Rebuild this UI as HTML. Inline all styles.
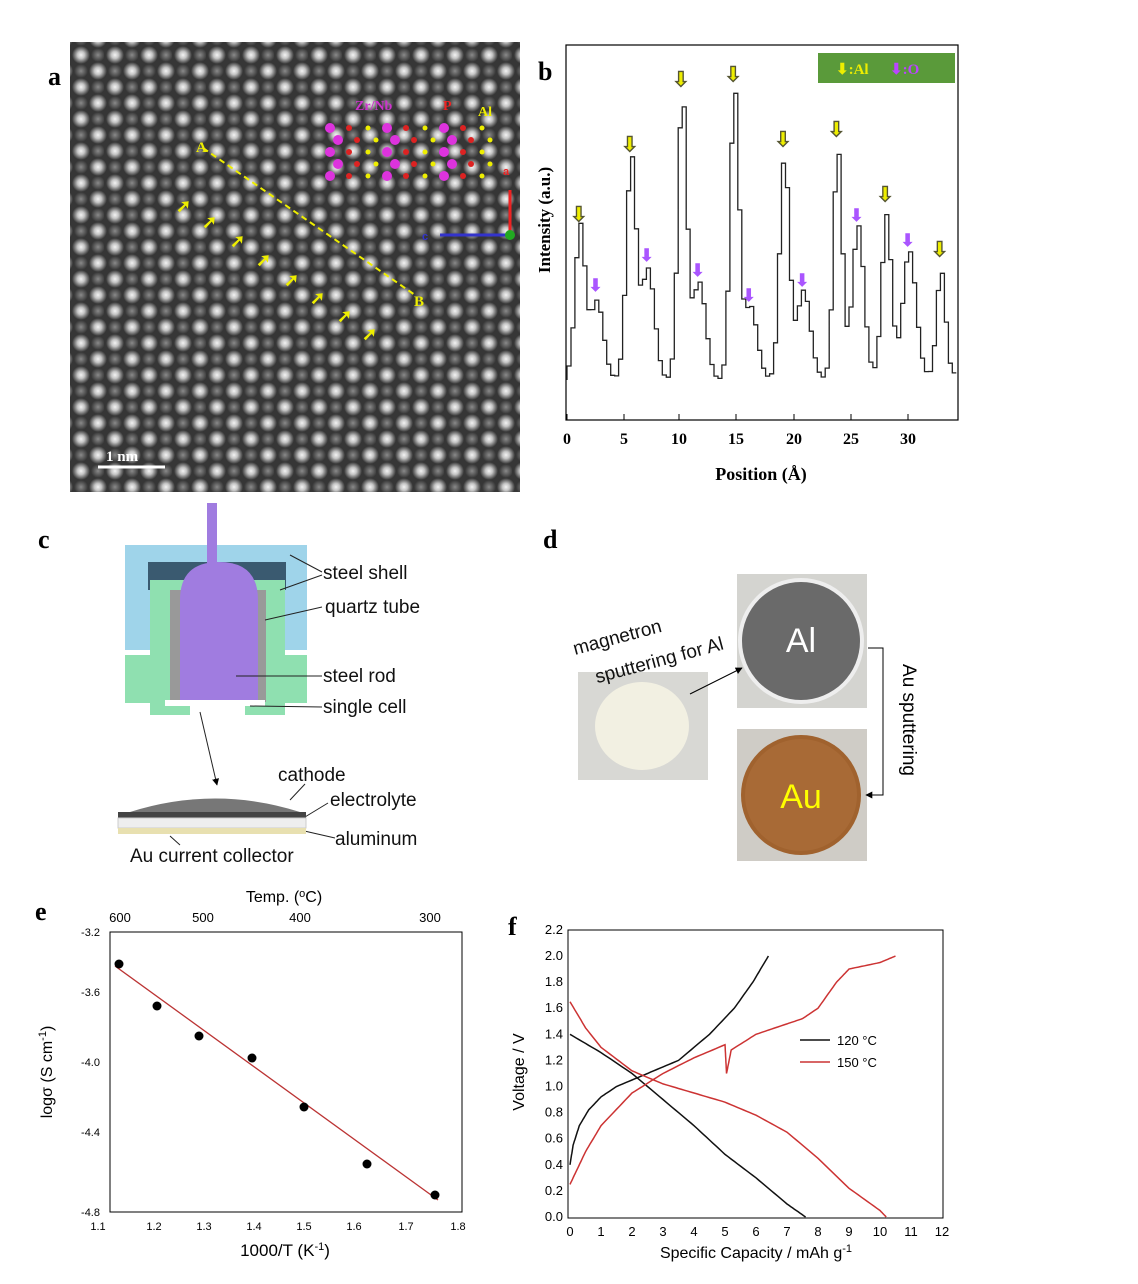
<!DOCTYPE html>
<html><head><meta charset="utf-8">
<style>
html,body{margin:0;padding:0;background:#fff;}
body{width:1138px;height:1284px;position:relative;overflow:hidden;font-family:"Liberation Sans",sans-serif;}
svg{position:absolute;left:0;top:0;}
</style></head>
<body>
<svg width="1138" height="1284" viewBox="0 0 1138 1284" xmlns="http://www.w3.org/2000/svg">
<defs>
<radialGradient id="dot"><stop offset="0" stop-color="#f4f4f4"/><stop offset="0.4" stop-color="#c4c4c4"/><stop offset="1" stop-color="#bbb" stop-opacity="0"/></radialGradient>
<radialGradient id="dot2"><stop offset="0" stop-color="#8a8a8a"/><stop offset="1" stop-color="#888" stop-opacity="0"/></radialGradient>
<pattern id="lat" x="70" y="42" width="34" height="32" patternUnits="userSpaceOnUse">
<rect width="34" height="32" fill="#363636"/>
<circle cx="11" cy="13" r="9" fill="url(#dot)"/>
<circle cx="28" cy="29" r="9" fill="url(#dot)"/>
<circle cx="-6" cy="29" r="9" fill="url(#dot)"/>
<circle cx="28" cy="-3" r="9" fill="url(#dot)"/>
<circle cx="-6" cy="-3" r="9" fill="url(#dot)"/>
<circle cx="28" cy="13" r="7" fill="url(#dot2)"/>
<circle cx="11" cy="29" r="7" fill="url(#dot2)"/>
<circle cx="11" cy="-3" r="7" fill="url(#dot2)"/>
</pattern>
<marker id="ah" viewBox="0 0 10 10" refX="9" refY="5" markerWidth="7" markerHeight="7" orient="auto"><path d="M0,0L10,5L0,10z" fill="#000"/></marker>
</defs>

<text x="48" y="85" font-family="Liberation Serif" font-weight="bold" font-size="26">a</text>
<rect x="70" y="42" width="450" height="450" fill="url(#lat)"/>
<line x1="203" y1="148" x2="415" y2="295" stroke="#ee0" stroke-width="2" stroke-dasharray="6,4"/>
<text x="196" y="152" fill="#ee0" font-family="Liberation Serif" font-weight="bold" font-size="15">A</text>
<text x="414" y="306" fill="#ee0" font-family="Liberation Serif" font-weight="bold" font-size="15">B</text>
<g fill="#ee0" font-size="18" font-weight="bold">
<text x="176" y="212">➚</text><text x="202" y="228">➚</text><text x="230" y="247">➚</text><text x="256" y="266">➚</text><text x="284" y="286">➚</text><text x="310" y="304">➚</text><text x="337" y="322">➚</text><text x="362" y="340">➚</text>
</g>
<text x="355" y="110" fill="#c3c" font-family="Liberation Serif" font-weight="bold" font-size="14">Zr/Nb</text>
<text x="443" y="110" fill="#e22" font-family="Liberation Serif" font-weight="bold" font-size="14">P</text>
<text x="478" y="116" fill="#ee0" font-family="Liberation Serif" font-weight="bold" font-size="14">Al</text>
<g id="atoms"></g>
<line x1="510" y1="235" x2="510" y2="190" stroke="#e22" stroke-width="3"/>
<line x1="510" y1="235" x2="440" y2="235" stroke="#33c" stroke-width="3"/>
<circle cx="510" cy="235" r="5" fill="#2a2"/>
<text x="503" y="175" fill="#e22" font-size="11" font-weight="bold">a</text>
<text x="422" y="240" fill="#33c" font-size="11" font-weight="bold">c</text>
<line x1="98" y1="467" x2="165" y2="467" stroke="#fff" stroke-width="3"/>
<text x="106" y="461" fill="#fff" font-family="Liberation Serif" font-weight="bold" font-size="15">1 nm</text>

<text x="538" y="80" font-family="Liberation Serif" font-weight="bold" font-size="26">b</text>
<rect x="566" y="45" width="392" height="375" fill="none" stroke="#000" stroke-width="1.2"/>
<rect x="818" y="53" width="137" height="30" fill="#5a9a3a"/>
<text x="836" y="74" fill="#ee0" font-family="Liberation Serif" font-weight="bold" font-size="15">⬇:Al</text>
<text x="890" y="74" fill="#b4f" font-family="Liberation Serif" font-weight="bold" font-size="15">⬇:O</text>
<path id="bcurve" fill="none" stroke="#222" stroke-width="1.3"/>
<g id="barrows" font-size="20" font-weight="bold"></g>
<g font-family="Liberation Serif" font-weight="bold" font-size="16" text-anchor="middle">
<text x="567" y="444">0</text><text x="624" y="444">5</text><text x="679" y="444">10</text><text x="736" y="444">15</text><text x="794" y="444">20</text><text x="851" y="444">25</text><text x="908" y="444">30</text>
<text x="761" y="480" font-size="18">Position (Å)</text>
<text transform="translate(550,220) rotate(-90)" font-size="17">Intensity (a.u.)</text>
</g>
<g stroke="#000"><line x1="567" y1="420" x2="567" y2="414"/><line x1="624" y1="420" x2="624" y2="414"/><line x1="679" y1="420" x2="679" y2="414"/><line x1="736" y1="420" x2="736" y2="414"/><line x1="794" y1="420" x2="794" y2="414"/><line x1="851" y1="420" x2="851" y2="414"/><line x1="908" y1="420" x2="908" y2="414"/></g>

<text x="38" y="548" font-family="Liberation Serif" font-weight="bold" font-size="26">c</text>
<rect x="125" y="545" width="182" height="105" fill="#9fd4ea"/>
<rect x="148" y="562" width="138" height="28" fill="#3a5a70"/>
<rect x="125" y="655" width="182" height="48" fill="#8fe0b0"/>
<rect x="150" y="580" width="40" height="135" fill="#8fe0b0"/>
<rect x="245" y="580" width="40" height="135" fill="#8fe0b0"/>
<rect x="170" y="590" width="16" height="112" fill="#999"/>
<rect x="252" y="590" width="14" height="112" fill="#999"/>
<rect x="207" y="503" width="10" height="62" fill="#a07ce0"/>
<path d="M180,700 L180,600 Q180,562 219,562 Q258,562 258,600 L258,700 Z" fill="#a07ce0"/>
<rect x="165" y="700" width="100" height="6" fill="#fff"/>
<g stroke="#222" stroke-width="1">
<line x1="290" y1="555" x2="322" y2="572"/><line x1="280" y1="590" x2="322" y2="575"/>
<line x1="265" y1="620" x2="322" y2="607"/>
<line x1="236" y1="676" x2="322" y2="676"/>
<line x1="250" y1="706" x2="322" y2="707"/>
<line x1="200" y1="712" x2="217" y2="785" marker-end="url(#ah)"/>
<line x1="290" y1="800" x2="305" y2="784"/><line x1="300" y1="820" x2="328" y2="803"/>
<line x1="300" y1="830" x2="335" y2="838"/>
<line x1="170" y1="836" x2="180" y2="845"/>
</g>
<g font-size="19" fill="#111">
<text x="323" y="579">steel shell</text><text x="325" y="613">quartz tube</text>
<text x="323" y="682">steel rod</text><text x="323" y="713">single cell</text>
<text x="278" y="781">cathode</text><text x="330" y="806">electrolyte</text>
<text x="335" y="845">aluminum</text><text x="130" y="862">Au current collector</text>
</g>
<path d="M130,812 Q215,785 300,812 Z" fill="#777"/>
<rect x="118" y="812" width="188" height="6" fill="#444"/>
<rect x="118" y="818" width="188" height="10" fill="#eee" stroke="#ccc"/>
<rect x="118" y="828" width="188" height="6" fill="#e8e0b0"/>

<text x="543" y="548" font-family="Liberation Serif" font-weight="bold" font-size="26">d</text>
<rect x="578" y="672" width="130" height="108" fill="#d8d8d4"/>
<ellipse cx="642" cy="726" rx="47" ry="44" fill="#f2f0e2"/>
<rect x="737" y="574" width="130" height="134" fill="#d4d4d0"/>
<circle cx="801" cy="641" r="63" fill="#eee"/><circle cx="801" cy="641" r="59" fill="#6a6a6a"/>
<text x="801" y="652" fill="#fff" font-size="34" text-anchor="middle">Al</text>
<rect x="737" y="729" width="130" height="132" fill="#cfccc6"/>
<circle cx="801" cy="795" r="60" fill="#a0622e"/><circle cx="801" cy="795" r="56" fill="#a86a36"/>
<text x="801" y="808" fill="#ff0" font-size="34" text-anchor="middle">Au</text>
<g transform="translate(575,655) rotate(-15)" font-size="19" fill="#111"><text x="0" y="0">magnetron</text><text x="14" y="33">sputtering for Al</text></g>
<line x1="690" y1="694" x2="742" y2="668" stroke="#000" marker-end="url(#ah)"/>
<polyline points="868,648 883,648 883,795 868,795" fill="none" stroke="#000"/>
<line x1="883" y1="795" x2="866" y2="795" stroke="#000" marker-end="url(#ah)"/>
<text transform="translate(903,720) rotate(90)" font-size="19" text-anchor="middle">Au sputtering</text>

<text x="35" y="920" font-family="Liberation Serif" font-weight="bold" font-size="26">e</text>
<rect x="110" y="932" width="352" height="280" fill="none" stroke="#000"/>
<line x1="115" y1="966" x2="438" y2="1200" stroke="#b33" stroke-width="1.3"/>
<g fill="#000"><circle cx="119" cy="964" r="4.5"/><circle cx="157" cy="1006" r="4.5"/><circle cx="199" cy="1036" r="4.5"/><circle cx="252" cy="1058" r="4.5"/><circle cx="304" cy="1107" r="4.5"/><circle cx="367" cy="1164" r="4.5"/><circle cx="435" cy="1195" r="4.5"/></g>
<g font-size="11" text-anchor="middle">
<text x="98" y="1230">1.1</text><text x="154" y="1230">1.2</text><text x="204" y="1230">1.3</text><text x="254" y="1230">1.4</text><text x="304" y="1230">1.5</text><text x="354" y="1230">1.6</text><text x="406" y="1230">1.7</text><text x="458" y="1230">1.8</text>
</g>
<g font-size="11" text-anchor="end">
<text x="100" y="936">-3.2</text><text x="100" y="996">-3.6</text><text x="100" y="1066">-4.0</text><text x="100" y="1136">-4.4</text><text x="100" y="1216">-4.8</text>
</g>
<g font-size="13" text-anchor="middle">
<text x="120" y="922">600</text><text x="203" y="922">500</text><text x="300" y="922">400</text><text x="430" y="922">300</text>
</g>
<text x="284" y="902" font-size="16" text-anchor="middle">Temp. (<tspan font-size="11" dy="-5">o</tspan><tspan dy="5">C)</tspan></text>
<text x="285" y="1256" font-size="17" text-anchor="middle">1000/T (K<tspan font-size="11" dy="-6">-1</tspan><tspan dy="6">)</tspan></text>
<text transform="translate(52,1072) rotate(-90)" font-size="16" text-anchor="middle">logσ (S cm<tspan font-size="11" dy="-6">-1</tspan><tspan dy="6">)</tspan></text>

<text x="508" y="935" font-family="Liberation Serif" font-weight="bold" font-size="26">f</text>
<rect x="568" y="930" width="375" height="288" fill="none" stroke="#000"/>
<g font-size="13" text-anchor="end" id="fy"></g>
<g font-size="13" text-anchor="middle" id="fx"></g>
<text x="756" y="1258" font-size="16" text-anchor="middle">Specific Capacity / mAh g<tspan font-size="11" dy="-6">-1</tspan></text>
<text transform="translate(524,1072) rotate(-90)" font-size="16" text-anchor="middle">Voltage / V</text>
<path id="k1" fill="none" stroke="#111" stroke-width="1.5"/>
<path id="k2" fill="none" stroke="#111" stroke-width="1.5"/>
<path id="r1" fill="none" stroke="#c33" stroke-width="1.5"/>
<path id="r2" fill="none" stroke="#c33" stroke-width="1.5"/>
<line x1="800" y1="1040" x2="830" y2="1040" stroke="#111" stroke-width="1.5"/>
<line x1="800" y1="1062" x2="830" y2="1062" stroke="#c33" stroke-width="1.5"/>
<text x="837" y="1045" font-size="13">120 °C</text>
<text x="837" y="1067" font-size="13">150 °C</text>
</svg>
<script>
var ns="http://www.w3.org/2000/svg";
function el(t,a,p,txt){var e=document.createElementNS(ns,t);for(var k in a)e.setAttribute(k,a[k]);if(txt!==undefined)e.textContent=txt;p.appendChild(e);return e;}
var g=document.getElementById('atoms');
for(var r=0;r<5;r++)for(var c=0;c<9;c++){var x=330+c*19+(r%2)*8,y=128+r*12;
 if(c%3==0)el('circle',{cx:x,cy:y,r:5,fill:'#d3d'},g);else if(c%3==1)el('circle',{cx:x,cy:y,r:3,fill:'#d22'},g);else el('circle',{cx:x,cy:y,r:2.5,fill:'#ee0'},g);}
var al=[[1,160,0.6],[5.5,230,0.6],[10,295,0.55],[14.6,300,0.55],[19,235,0.6],[23.7,245,0.55],[28,180,0.6],[32.8,125,0.55]];
var ox=[[2.5,90,0.8],[7,120,0.8],[11.5,105,0.8],[16,80,0.8],[20.7,95,0.8],[25.5,160,0.7],[30,135,0.8]];
function I(x){var v=15;al.concat(ox).forEach(function(p){v+=(p[1]-15)*Math.exp(-Math.pow((x-p[0])/p[2],2));});
 v+=5*Math.sin(x*1.3)+5;return v;}
var d='',step=0.35,px=function(x){return 567+11.35*x;};
for(var x=0;x<=34;x+=step){var y=395-I(x);if(x==0)d='M567,380 L567,'+y.toFixed(1);else d+=' V'+y.toFixed(1);d+=' H'+px(x+step).toFixed(1);}
document.getElementById('bcurve').setAttribute('d',d);
var ba=document.getElementById('barrows');
al.forEach(function(p){el('text',{x:px(p[0])-8,y:395-p[1]-14,fill:'#ee0',stroke:'#553','stroke-width':0.6},ba,'⬇');});
ox.forEach(function(p){el('text',{x:px(p[0])-7,y:395-p[1]-14,fill:'#a5f','font-size':17},ba,'⬇');});
var fy=document.getElementById('fy'),fx=document.getElementById('fx');
function X(v){return 570+31*v;}function Y(v){return 1217-130.5*v;}
for(var i=0;i<=11;i++){var v=i*0.2;el('text',{x:563,y:Y(v)+4},fy,v.toFixed(1));}
for(var i=0;i<=12;i++)el('text',{x:X(i),y:1236},fx,i);
function path(id,pts){var d='';pts.forEach(function(p,i){d+=(i?'L':'M')+X(p[0]).toFixed(1)+','+Y(p[1]).toFixed(1);});document.getElementById(id).setAttribute('d',d);}
function sm(pts){var o=[];for(var i=0;i<pts.length-1;i++){for(var t=0;t<1;t+=0.1){o.push([pts[i][0]+(pts[i+1][0]-pts[i][0])*t,pts[i][1]+(pts[i+1][1]-pts[i][1])*t]);}}o.push(pts[pts.length-1]);return o;}
path('k1',sm([[0,0.4],[0.1,0.55],[0.3,0.7],[0.6,0.82],[1,0.92],[1.5,1.0],[2.5,1.1],[3.5,1.2],[4.5,1.4],[5.3,1.6],[5.9,1.8],[6.4,2.0]]));
path('k2',sm([[0,1.4],[1,1.26],[2,1.1],[3,0.9],[4,0.7],[5,0.48],[6,0.3],[7,0.1],[7.6,0]]));
path('r1',sm([[0,0.25],[0.2,0.35],[0.5,0.5],[1,0.7],[2,0.95],[3,1.1],[4,1.22],[5,1.32],[5.05,1.1],[5.2,1.28],[6,1.4],[7,1.48],[7.5,1.52],[8,1.6],[8.6,1.8],[9,1.9],[10,1.95],[10.5,2.0]]));
path('r2',sm([[0,1.65],[0.5,1.45],[1,1.3],[2,1.12],[3,1.02],[4,0.95],[5,0.88],[6,0.78],[7,0.65],[8,0.45],[9,0.22],[10,0.05],[10.2,0]]));
</script>
</body></html>
